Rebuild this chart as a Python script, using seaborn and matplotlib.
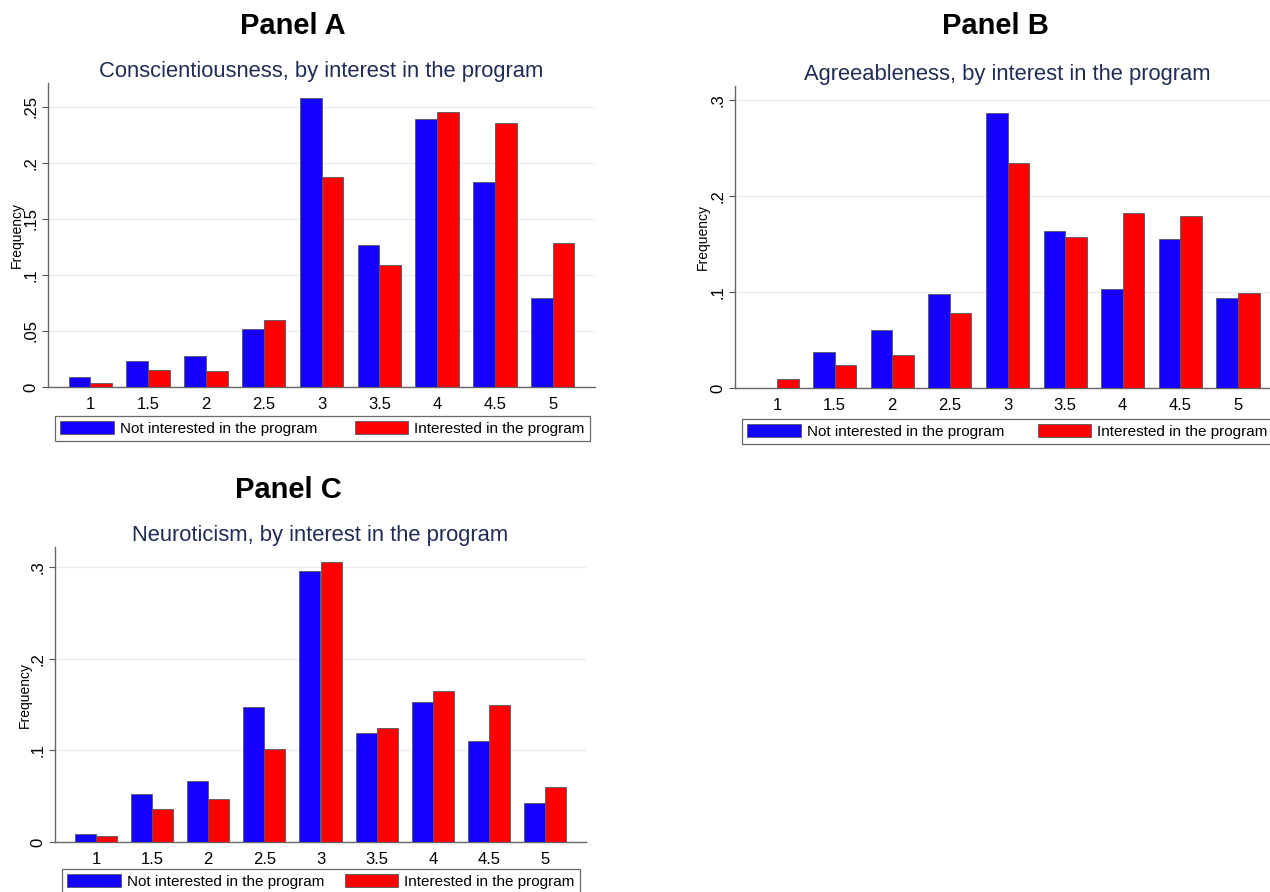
import numpy as np
import pandas as pd
import matplotlib
matplotlib.use("Agg")
import matplotlib.pyplot as plt
from matplotlib.patches import Patch
import seaborn as sns

# ---- data ----
scores = ["1", "1.5", "2", "2.5", "3", "3.5", "4", "4.5", "5"]
groups = ["Not interested in the program", "Interested in the program"]

consc_not = [0.009, 0.023, 0.0277, 0.0515, 0.2575, 0.1265, 0.239, 0.1828, 0.0795]
consc_int = [0.0036, 0.0155, 0.0143, 0.0595, 0.187, 0.1087, 0.245, 0.2352, 0.1286]

agree_not = [0.0, 0.0375, 0.061, 0.098, 0.2865, 0.164, 0.103, 0.155, 0.094]
agree_int = [0.0094, 0.024, 0.034, 0.078, 0.235, 0.158, 0.183, 0.179, 0.099]

neuro_not = [0.0091, 0.052, 0.0667, 0.1476, 0.296, 0.119, 0.1527, 0.1098, 0.0427]
neuro_int = [0.0062, 0.036, 0.0467, 0.1017, 0.306, 0.124, 0.1648, 0.149, 0.060]

panel_titles = ["Panel A", "Panel B", "Panel C"]
subtitles = ["Conscientiousness, by interest in the program",
             "Agreeableness, by interest in the program",
             "Neuroticism, by interest in the program"]
yticks_A = [0, 0.05, 0.1, 0.15, 0.2, 0.25]
yticklabels_A = ["0", ".05", ".1", ".15", ".2", ".25"]
yticks_BC = [0, 0.1, 0.2, 0.3]
yticklabels_BC = ["0", ".1", ".2", ".3"]

# ---- style ----
sns.set_theme(style="white")
plt.rcParams["font.family"] = ["Liberation Sans", "DejaVu Sans"]
plt.rcParams["text.color"] = "black"
plt.rcParams["xtick.color"] = "black"
plt.rcParams["ytick.color"] = "black"
plt.rcParams["axes.labelcolor"] = "black"

BLUE = "#1400FF"
RED = "#FF0000"
NAVY = "#1f2d56"
palette = {groups[0]: BLUE, groups[1]: RED}

W, H = 1270, 892
fig = plt.figure(figsize=(W / 100, H / 100), dpi=100)
fig.patch.set_facecolor("white")


def px_axes(left, right, top, bottom):
    return fig.add_axes([left / W, 1 - bottom / H, (right - left) / W, (bottom - top) / H])


def make_df(a, b):
    return pd.DataFrame({
        "score": scores * 2,
        "freq": list(a) + list(b),
        "group": [groups[0]] * len(scores) + [groups[1]] * len(scores),
    })


panels = [
    dict(box=(48, 595, 83, 387), a=consc_not, b=consc_int, ylim=0.271,
         yt=yticks_A, ytl=yticklabels_A, title_xy=(293, 26),
         ylab_x=24, leg=(55, 590, 416)),
    dict(box=(735, 1280, 86, 388), a=agree_not, b=agree_int, ylim=0.315,
         yt=yticks_BC, ytl=yticklabels_BC, title_xy=(995, 26),
         ylab_x=710, leg=(742, 1273, 419)),
    dict(box=(55, 586, 547, 842), a=neuro_not, b=neuro_int, ylim=0.322,
         yt=yticks_BC, ytl=yticklabels_BC, title_xy=(288, 490),
         ylab_x=32, leg=(62, 580, 869)),
]

for i, p in enumerate(panels):
    l, r, t, b = p["box"]
    ax = px_axes(l, r, t, b)
    df = make_df(p["a"], p["b"])
    sns.barplot(data=df, x="score", y="freq", hue="group", hue_order=groups,
                order=scores, palette=palette, width=0.75, dodge=True,
                saturation=1, edgecolor="#555566", linewidth=0.6, legend=False,
                ax=ax, errorbar=None, zorder=3)
    ax.set_xlim(-0.73, len(scores) - 1 + 0.73)
    ax.set_ylim(0, p["ylim"])
    ax.set_yticks(p["yt"])
    ax.set_yticklabels(p["ytl"], rotation=90, va="center", fontsize=12)
    ax.tick_params(axis="y", length=4, width=0.8, color="#555555", pad=3, left=True)
    ax.tick_params(axis="x", length=0, pad=7, labelsize=12)
    ax.yaxis.grid(True, color="#e6eff1", linewidth=1.0, zorder=0)
    ax.xaxis.grid(False)
    ax.set_axisbelow(True)
    for s in ["top", "right"]:
        ax.spines[s].set_visible(False)
    for s in ["left", "bottom"]:
        ax.spines[s].set_color("#666666")
        ax.spines[s].set_linewidth(1.0)
    ax.set_xlabel("")
    ax.set_ylabel("Frequency", fontsize=10)
    ax.yaxis.set_label_coords((p["ylab_x"] - l) / (r - l), 0.5)
    ax.set_title(subtitles[i], fontsize=15.8, color=NAVY, pad=4)

    fig.text(p["title_xy"][0] / W, 1 - p["title_xy"][1] / H, panel_titles[i],
             ha="center", va="center", fontsize=21, fontweight="bold", color="black")

    lx0, lx1, ly = p["leg"]
    handles = [Patch(facecolor=BLUE, edgecolor="#555566", linewidth=0.6),
               Patch(facecolor=RED, edgecolor="#555566", linewidth=0.6)]
    leg = ax.legend(handles, groups, loc="upper left",
                    bbox_to_anchor=((lx0 - l) / (r - l), (b - ly) / (b - t),
                                    (lx1 - lx0) / (r - l), 0),
                    mode="expand", ncol=2, fontsize=11, frameon=True,
                    fancybox=False, edgecolor="#444444", borderaxespad=0,
                    handlelength=3.5, handleheight=0.9, handletextpad=0.4,
                    borderpad=0.35, columnspacing=1.0)
    leg.get_frame().set_linewidth(0.9)

fig.savefig("out.png", dpi=100, facecolor="white")
